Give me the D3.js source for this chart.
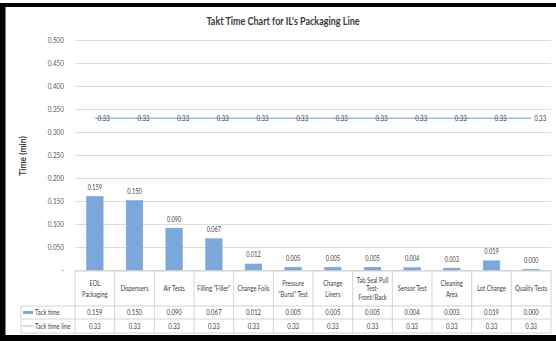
<!DOCTYPE html>
<html>
<head>
<meta charset="utf-8">
<script src="https://cdn.jsdelivr.net/npm/d3@7"></script>
<style>
  html, body { margin: 0; padding: 0; background: #fff; }
  svg { display: block; }
  text { font-family: "Lato", "Liberation Sans", sans-serif; fill: #404040; }
</style>
</head>
<body>
<svg id="chart" width="556" height="341"></svg>
<script>
// Process steps on the packaging line (multi-line labels split on "\n")
const categories = [
  "EOL\nPackaging", "Dispensers", "Air Tests", "Filling \"Filler\"", "Change Foils",
  "Pressure\n\"Burst\" Test", "Change\nLiners", "Tab Seal Pull\nTest-\nFront/Back",
  "Sensor Test", "Cleaning\nArea", "Lot Change", "Quality Tests"
];
// Measured tack time per step (min)
const tackTime = [0.159, 0.150, 0.090, 0.067, 0.012, 0.005, 0.005, 0.005, 0.004, 0.003, 0.019, 0.000];
// Takt time target line (min)
const taktLine = [0.33, 0.33, 0.33, 0.33, 0.33, 0.33, 0.33, 0.33, 0.33, 0.33, 0.33, 0.33];
const yTicks = [0, 0.05, 0.1, 0.15, 0.2, 0.25, 0.3, 0.35, 0.4, 0.45, 0.5];
const seriesNames = ["Tack time", "Tack time line"];

const svg = d3.select("#chart");
const W = 556, H = 341;
const plot = { left: 75, right: 551, top: 40, bottom: 270 };
const barColor = "#7ba7db";
const lineColor = "#9dbde6";
const gridColor = "#dcdcdc";
const tableColor = "#c8c8c8";

// Narrow the glyphs horizontally about a given anchor x
function squeeze(sel, sx, ax) {
  sel.each(function(d, i) {
    const a = typeof ax === "function" ? ax(d, i) : (ax !== undefined ? ax : +d3.select(this).attr("x"));
    d3.select(this).attr("transform", `translate(${a},0) scale(${sx},1) translate(${-a},0)`);
  });
}

svg.append("rect").attr("width", W).attr("height", H).attr("fill", "#fff");

const x = d3.scaleBand()
  .domain(d3.range(categories.length))
  .range([plot.left, plot.right])
  .paddingInner(0.58).paddingOuter(0.29);
const xBand = d3.scaleBand()
  .domain(d3.range(categories.length))
  .range([plot.left, plot.right]);
const y = d3.scaleLinear().domain([0, 0.5]).range([plot.bottom, plot.top]);
const cx = i => xBand(i) + xBand.bandwidth() / 2;

// Title
svg.append("text")
  .attr("x", 283).attr("y", 25)
  .attr("text-anchor", "middle")
  .style("font-size", "12px").style("font-weight", "bold")
  .style("fill", "#3a3a3a")
  .text("Takt Time Chart for IL's Packaging Line")
  .call(squeeze, 0.75);

// Y axis title
svg.append("text")
  .attr("transform", "translate(26,156) rotate(-90)")
  .attr("text-anchor", "middle")
  .style("font-size", "8.5px").style("font-weight", "bold")
  .text("Time (min)");

// Y axis with gridlines
const yAxis = d3.axisLeft(y)
  .tickValues(yTicks)
  .tickSize(-(plot.right - plot.left))
  .tickPadding(11)
  .tickFormat(d => d === 0 ? "-" : d3.format(".3f")(d));
const gy = svg.append("g").attr("transform", `translate(${plot.left},0)`).call(yAxis);
gy.select(".domain").remove();
gy.selectAll(".tick line").attr("stroke", gridColor).attr("stroke-width", 1);
gy.selectAll(".tick text").style("font-size", "8px").style("fill", "#595959")
  .style("font-family", "Lato, sans-serif")
  .call(squeeze, 0.8, -11);

// Bars
svg.append("g").selectAll("rect").data(tackTime).join("rect")
  .attr("x", (d, i) => x(i))
  .attr("width", x.bandwidth())
  .attr("y", d => y(d) - 0.5)
  .attr("height", d => y(0) - y(d) + 0.5)
  .attr("fill", barColor)
  .attr("stroke", barColor).attr("stroke-width", 0.5);

// Bar value labels
svg.append("g").selectAll("text").data(tackTime).join("text")
  .attr("x", (d, i) => cx(i))
  .attr("y", d => y(d) - 7)
  .attr("text-anchor", "middle")
  .style("font-size", "7.2px")
  .text(d => d3.format(".3f")(d))
  .call(squeeze, 0.78);

// Takt time line
const line = d3.line().x((d, i) => cx(i)).y(d => y(d));
svg.append("path").datum(taktLine)
  .attr("d", line)
  .attr("fill", "none")
  .attr("stroke", lineColor)
  .attr("stroke-width", 1.5);

svg.append("g").selectAll("text").data(taktLine).join("text")
  .attr("x", (d, i) => cx(i) + 3)
  .attr("y", d => y(d) + 2.8)
  .style("font-size", "7.8px")
  .text(d => d3.format(".2f")(d))
  .call(squeeze, 0.78);

// Data table beneath the plot
const rowTop = plot.bottom + 1;
const headerBottom = 306;
const row1Bottom = 319;
const row2Bottom = 333;
const legendLeft = 21;
const tg = svg.append("g");

// horizontal rules
[[plot.left, rowTop], [legendLeft, headerBottom], [legendLeft, row1Bottom], [legendLeft, row2Bottom]]
  .forEach(([x0, yy]) => {
    tg.append("line").attr("x1", x0).attr("x2", plot.right).attr("y1", yy).attr("y2", yy)
      .attr("stroke", tableColor).attr("stroke-width", 0.8);
  });
// vertical rules
const vx = d3.range(categories.length + 1).map(i => i < categories.length ? xBand(i) : plot.right);
vx.forEach(xx => {
  tg.append("line").attr("x1", xx).attr("x2", xx).attr("y1", rowTop).attr("y2", row2Bottom)
    .attr("stroke", tableColor).attr("stroke-width", 0.8);
});
tg.append("line").attr("x1", legendLeft).attr("x2", legendLeft).attr("y1", headerBottom).attr("y2", row2Bottom)
  .attr("stroke", tableColor).attr("stroke-width", 0.8);

// category header text
categories.forEach((c, i) => {
  const lines = c.split("\n");
  const lh = lines.length > 2 ? 8.5 : 11;
  const mid = (rowTop + headerBottom) / 2;
  const t = tg.append("text")
    .attr("x", cx(i))
    .attr("text-anchor", "middle")
    .style("font-size", "7.8px");
  lines.forEach((l, k) => {
    t.append("tspan")
      .attr("x", cx(i))
      .attr("y", mid + (k - (lines.length - 1) / 2) * lh + 2.7)
      .text(l);
  });
  t.call(squeeze, 0.74, cx(i));
});

// value rows
const rows = [
  { vals: tackTime, fmt: d3.format(".3f"), top: headerBottom, bottom: row1Bottom },
  { vals: taktLine, fmt: d3.format(".2f"), top: row1Bottom, bottom: row2Bottom }
];
rows.forEach((r, ri) => {
  const mid = (r.top + r.bottom) / 2;
  tg.append("g").selectAll("text").data(r.vals).join("text")
    .attr("x", (d, i) => cx(i))
    .attr("y", mid + 2.7)
    .attr("text-anchor", "middle")
    .style("font-size", "7.8px")
    .text(d => r.fmt(d))
    .call(squeeze, 0.76);
  // legend key
  if (ri === 0) {
    tg.append("rect").attr("x", legendLeft + 2).attr("y", mid - 1.5).attr("width", 10).attr("height", 3)
      .attr("fill", barColor);
  } else {
    tg.append("line").attr("x1", legendLeft + 1).attr("x2", legendLeft + 12).attr("y1", mid).attr("y2", mid)
      .attr("stroke", lineColor).attr("stroke-width", 1);
  }
  tg.append("text")
    .attr("x", legendLeft + 14).attr("y", mid + 2.7)
    .style("font-size", "7.8px")
    .text(seriesNames[ri])
    .call(squeeze, 0.76);
});

// Black frame strips along the top, left and bottom edges
svg.append("rect").attr("x", 0).attr("y", 3).attr("width", W).attr("height", 4).attr("fill", "#000");
svg.append("rect").attr("x", 0).attr("y", 3).attr("width", 5.5).attr("height", H).attr("fill", "#000");
svg.append("rect").attr("x", 0).attr("y", 335).attr("width", W).attr("height", 6).attr("fill", "#000");
</script>
</body>
</html>
